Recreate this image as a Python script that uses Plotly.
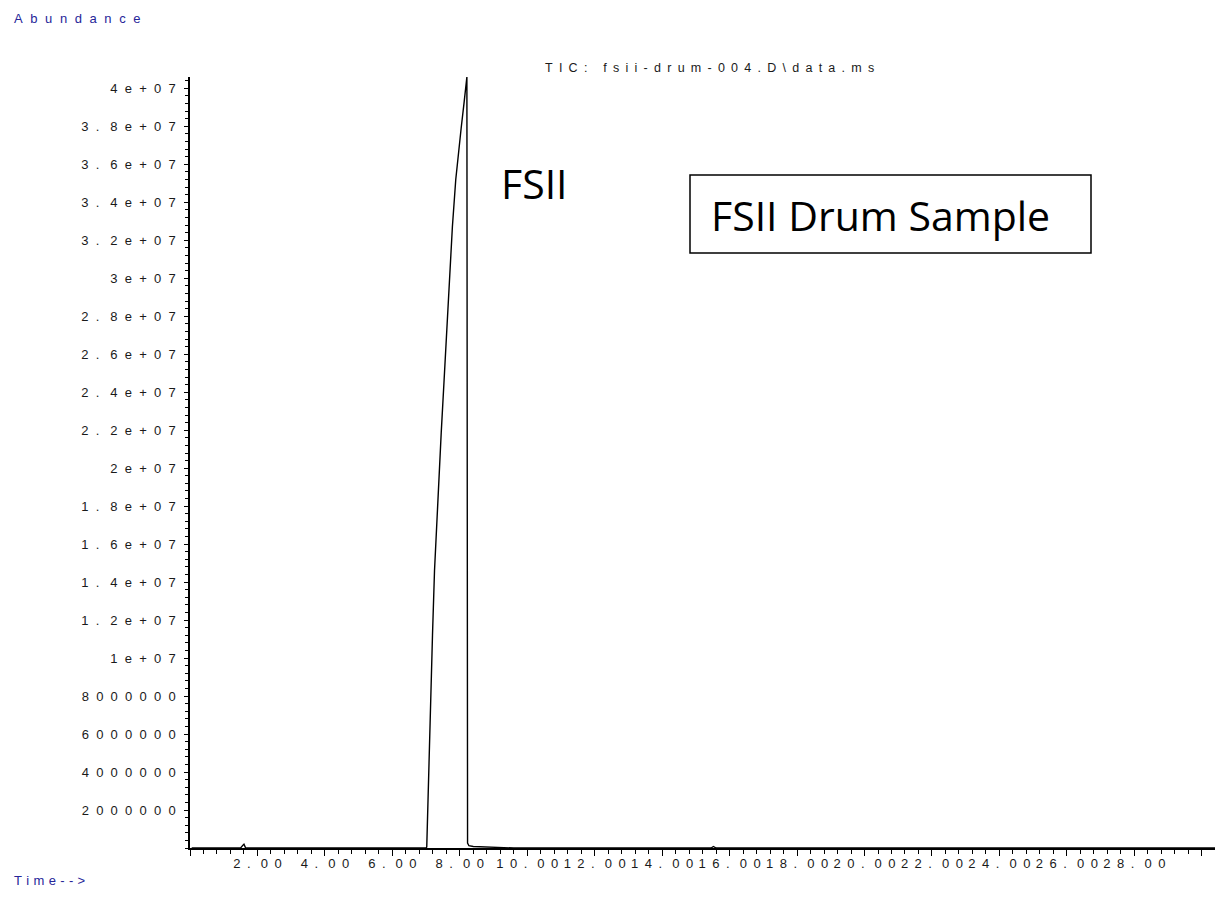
import plotly.graph_objects as go

# ---- data ----
time_min = [0.05, 1.50, 1.57, 1.60, 1.65, 7.00, 7.02, 7.07, 7.13, 7.19, 7.25, 7.31, 7.38,
            7.45, 7.53, 7.63, 7.70, 7.78, 7.88, 7.96, 8.04, 8.13, 8.21, 8.23, 8.27, 8.40,
            8.80, 9.30, 9.60, 15.45, 15.52, 15.60, 30.6]
abundance = [0, 0, 0.15e6, 0.20e6, 0, 0, 0.05e6, 3.8e6, 7.6e6, 11.2e6, 14.6e6, 17.0e6, 19.2e6,
             21.9e6, 24.5e6, 27.8e6, 30.3e6, 32.7e6, 35.2e6, 36.7e6, 37.9e6, 39.3e6, 40.6e6,
             0.26e6, 0.12e6, 0.08e6, 0.06e6, 0.04e6, 0, 0, 0.08e6, 0, 0]

x_tick_vals = [0, 2, 4, 6, 8, 10, 12, 14, 16, 18, 20, 22, 24, 26, 28, 30]
x_tick_labels = ["", "2.00", "4.00", "6.00", "8.00", "10.00", "12.00", "14.00", "16.00",
                 "18.00", "20.00", "22.00", "24.00", "26.00", "28.00", ""]
y_tick_vals = [2e6, 4e6, 6e6, 8e6, 1e7, 1.2e7, 1.4e7, 1.6e7, 1.8e7, 2e7, 2.2e7, 2.4e7,
               2.6e7, 2.8e7, 3e7, 3.2e7, 3.4e7, 3.6e7, 3.8e7, 4e7]
y_tick_labels = ["2000000", "4000000", "6000000", "8000000", "1e+07", "1.2e+07", "1.4e+07",
                 "1.6e+07", "1.8e+07", "2e+07", "2.2e+07", "2.4e+07", "2.6e+07", "2.8e+07",
                 "3e+07", "3.2e+07", "3.4e+07", "3.6e+07", "3.8e+07", "4e+07"]

title_text = "TIC: fsii-drum-004.D\\data.ms"
peak_label = "FSII"
box_label = "FSII Drum Sample"

# page geometry (the page body has an 8px margin)
OFF = 8
W, H = 1223, 897
PL, PR, PT, PB = 190, 1222, 77, 848          # plot area in page pixels
FW, FH = W - OFF, H - OFF
PW, PH = PR - PL, PB - PT


def cells(s, sep="\u2002", dot_sep="\u00a0\u2002"):
    # mimic the fixed character cells of the original instrument printout
    out = []
    for i, ch in enumerate(s):
        out.append(ch)
        if i < len(s) - 1:
            out.append(dot_sep if ch == "." else sep)
    return "".join(out)


def spaced(s, sep="\u2002"):
    return sep.join(list(s))


def px(x, y):
    return (x - PL) / PW, (PB - y) / PH


fig = go.Figure()
fig.add_trace(go.Scatter(x=time_min, y=abundance, mode="lines",
                         line=dict(color="black", width=1.4), hoverinfo="skip",
                         showlegend=False, cliponaxis=False))

tick_font = dict(family="Liberation Sans, Arial, sans-serif", size=13, color="#1a1a1a")

fig.update_xaxes(range=[0, 30.6], showgrid=False, zeroline=False,
                 showline=True, linecolor="black", linewidth=2,
                 tickmode="array", tickvals=x_tick_vals,
                 ticktext=[cells(t) for t in x_tick_labels],
                 ticks="outside", ticklen=6, tickwidth=1, tickcolor="black",
                 tickfont=tick_font, tickangle=0, ticklabelstandoff=-4,
                 minor=dict(tickmode="linear", tick0=0, dtick=0.4, ticks="outside",
                            ticklen=4, tickwidth=1, tickcolor="black"))
fig.update_yaxes(range=[0, 4.06e7], showgrid=False, zeroline=False,
                 showline=True, linecolor="black", linewidth=1.5,
                 tickmode="array", tickvals=y_tick_vals,
                 ticktext=[cells(t, "\u00a0\u00a0", "\u00a0\u00a0\u00a0") for t in y_tick_labels],
                 ticks="outside", ticklen=4, tickwidth=1, tickcolor="black",
                 tickfont=tick_font, ticklabelstandoff=6,
                 minor=dict(tickmode="linear", tick0=0, dtick=4e5, ticks="outside",
                            ticklen=3, tickwidth=1, tickcolor="black"))

navy = "#262699"
ann = []
x0, y0 = px(12, 18)
ann.append(dict(text=spaced("Abundance", "\u2002\u200a"), x=x0, y=y0, xref="paper", yref="paper",
                xanchor="left", yanchor="middle", showarrow=False,
                font=dict(family="Liberation Sans, Arial", size=13, color=navy)))
x0, y0 = px(12, 880)
ann.append(dict(text=spaced("Time-->", "\u2004"), x=x0, y=y0, xref="paper", yref="paper",
                xanchor="left", yanchor="middle", showarrow=False,
                font=dict(family="Liberation Sans, Arial", size=13, color=navy)))
x0, y0 = px(709, 68)
ann.append(dict(text=spaced(title_text, "\u2002"), x=x0, y=y0, xref="paper", yref="paper",
                xanchor="center", yanchor="middle", showarrow=False,
                font=dict(family="Liberation Sans, Arial", size=12.5, color="#1a1a1a")))
x0, y0 = px(534, 183)
ann.append(dict(text=peak_label, x=x0, y=y0, xref="paper", yref="paper",
                xanchor="center", yanchor="middle", showarrow=False,
                font=dict(family="Open Sans, sans-serif", size=41, color="black")))

bx0, by0 = px(690, 253)
bx1, by1 = px(1091, 175)
fig.add_shape(type="rect", xref="paper", yref="paper", x0=bx0, y0=by0, x1=bx1, y1=by1,
              line=dict(color="black", width=1.5), fillcolor="rgba(0,0,0,0)")
x0, y0 = px(709, 215)
ann.append(dict(text=box_label, x=x0, y=y0, xref="paper", yref="paper",
                xanchor="left", yanchor="middle", showarrow=False,
                font=dict(family="Open Sans, sans-serif", size=41, color="black")))

fig.update_layout(width=FW, height=FH,
                  margin=dict(l=PL - OFF, r=FW - (PR - OFF), t=PT - OFF, b=FH - (PB - OFF),
                              autoexpand=False),
                  paper_bgcolor="white", plot_bgcolor="white", annotations=ann,
                  showlegend=False)

fig.write_html("out.html")
